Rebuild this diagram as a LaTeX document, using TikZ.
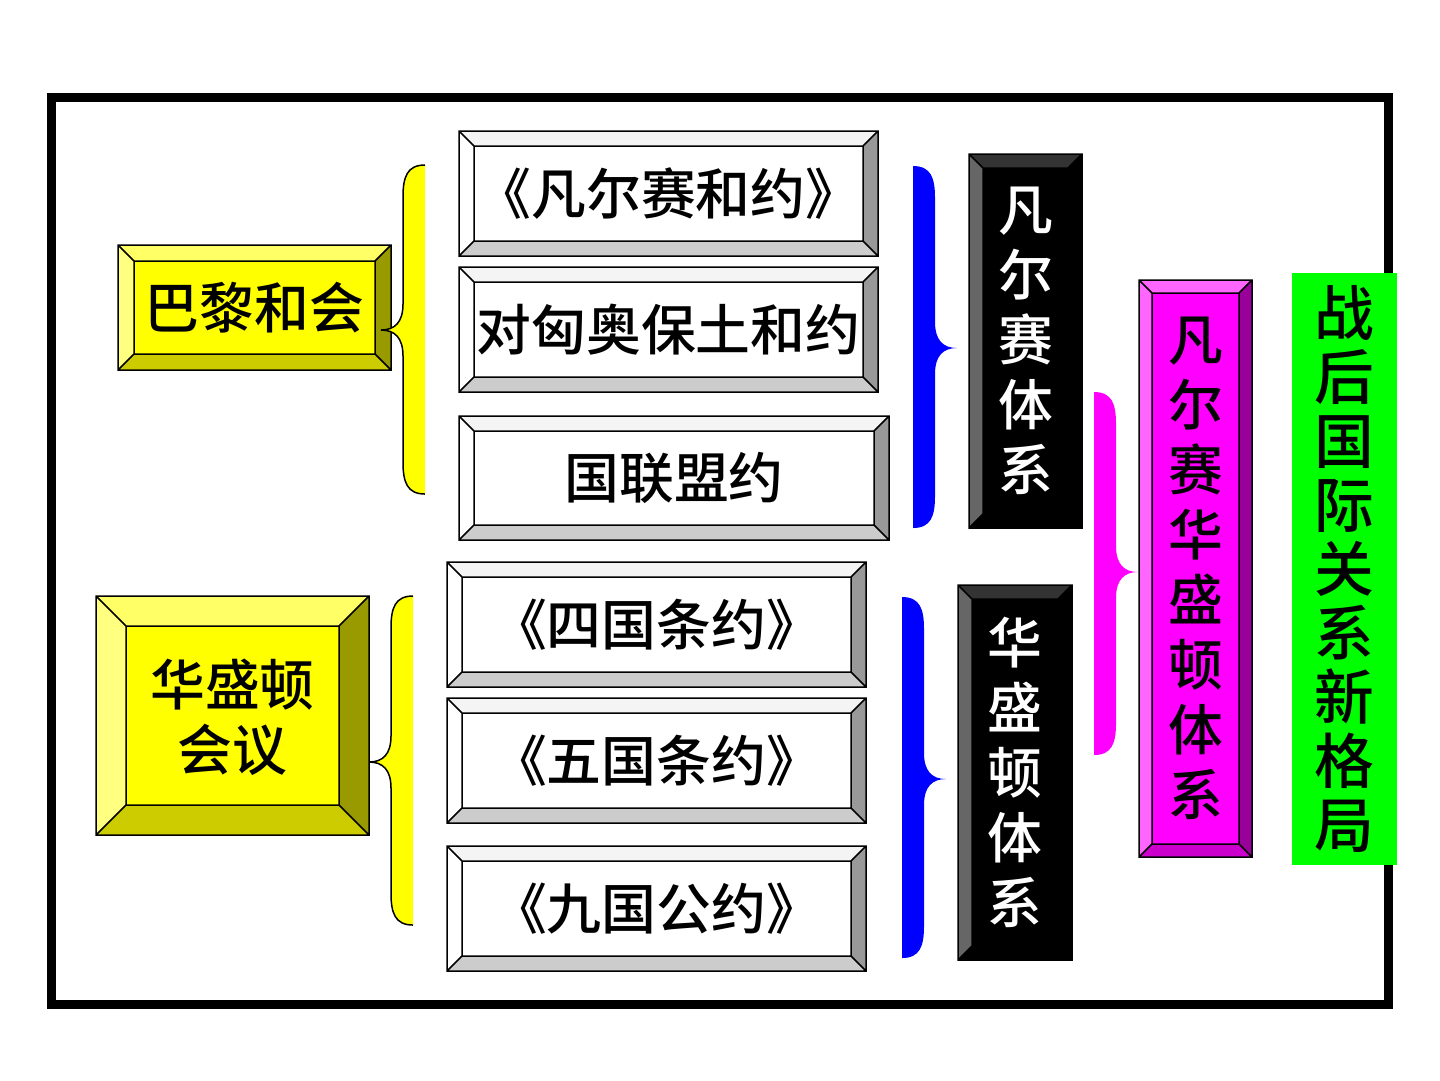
\documentclass[tikz,border=0pt]{standalone}
\usepackage{fontspec}
\newfontfamily\cjk{Noto Sans CJK SC}[BoldFont={* Medium}]
\definecolor{silverT}{HTML}{F4F4F4}
\definecolor{silverL}{HTML}{FFFFFF}
\definecolor{silverM}{HTML}{FFFFFF}
\definecolor{silverR}{HTML}{999999}
\definecolor{silverB}{HTML}{CCCCCC}
\definecolor{goldT}{HTML}{FFFF66}
\definecolor{goldL}{HTML}{FFFF80}
\definecolor{goldM}{HTML}{FFFF00}
\definecolor{goldR}{HTML}{999900}
\definecolor{goldB}{HTML}{CCCC00}
\definecolor{inkT}{HTML}{333333}
\definecolor{inkL}{HTML}{666666}
\definecolor{inkM}{HTML}{000000}
\definecolor{inkR}{HTML}{000000}
\definecolor{inkB}{HTML}{000000}
\definecolor{plumT}{HTML}{FF66FF}
\definecolor{plumL}{HTML}{FF66FF}
\definecolor{plumM}{HTML}{FF00FF}
\definecolor{plumR}{HTML}{990099}
\definecolor{plumB}{HTML}{CC00CC}
\definecolor{braceBlue}{HTML}{0000FF}
\definecolor{braceYellow}{HTML}{FFFF00}
\definecolor{bracePink}{HTML}{FF00FF}
\definecolor{limeFill}{HTML}{00FF00}
\tikzset{
    edge/.style={black, line width=0.15mm},
    lbl/.style={inner sep=0pt, align=center, font=\cjk\bfseries\fontsize{15.6}{18.5}\selectfont},
    biglbl/.style={inner sep=0pt, align=center, font=\cjk\bfseries\fontsize{17}{18.2}\selectfont}
}
\newcommand*{\bevelBox}[6]{% xleft, ytop, xright, ybottom, bevel, colour set
    \fill[#6M] (#1,#2) rectangle (#3,#4);
    \fill[#6T] (#1,#2) -- (#3,#2) -- (#3-#5,#2+#5) -- (#1+#5,#2+#5) -- cycle;
    \fill[#6L] (#1,#2) -- (#1+#5,#2+#5) -- (#1+#5,#4-#5) -- (#1,#4) -- cycle;
    \fill[#6R] (#3,#2) -- (#3,#4) -- (#3-#5,#4-#5) -- (#3-#5,#2+#5) -- cycle;
    \fill[#6B] (#1,#4) -- (#3,#4) -- (#3-#5,#4-#5) -- (#1+#5,#4-#5) -- cycle;
    \draw[edge] (#1,#2) rectangle (#3,#4) (#1+#5,#2+#5) rectangle (#3-#5,#4-#5)
        (#1,#2) -- (#1+#5,#2+#5) (#3,#2) -- (#3-#5,#2+#5)
        (#1,#4) -- (#1+#5,#4-#5) (#3,#4) -- (#3-#5,#4-#5);
}
\newcommand*{\rBrace}[5]{% xleft, ytop, ytip, ybottom, colour -- points right
    \fill[#5] (#1,#2) .. controls (#1+18,#2) and (#1+22,#2+12) .. (#1+22,#2+32)
        -- (#1+22,#3-26) .. controls (#1+22,#3-8) and (#1+30,#3) .. (#1+44,#3)
        .. controls (#1+30,#3) and (#1+22,#3+8) .. (#1+22,#3+26)
        -- (#1+22,#4-32) .. controls (#1+22,#4-12) and (#1+18,#4) .. (#1,#4) -- cycle;
}
\newcommand*{\lBrace}[5]{% xright, ytop, ytip, ybottom, colour -- points left, outlined
    \fill[#5] (#1,#2) .. controls (#1-18,#2) and (#1-22,#2+12) .. (#1-22,#2+32)
        -- (#1-22,#3-26) .. controls (#1-22,#3-8) and (#1-30,#3) .. (#1-44,#3)
        .. controls (#1-30,#3) and (#1-22,#3+8) .. (#1-22,#3+26)
        -- (#1-22,#4-32) .. controls (#1-22,#4-12) and (#1-18,#4) .. (#1,#4) -- cycle;
    \draw[edge] (#1,#2) .. controls (#1-18,#2) and (#1-22,#2+12) .. (#1-22,#2+32)
        -- (#1-22,#3-26) .. controls (#1-22,#3-8) and (#1-30,#3) .. (#1-44,#3)
        .. controls (#1-30,#3) and (#1-22,#3+8) .. (#1-22,#3+26)
        -- (#1-22,#4-32) .. controls (#1-22,#4-12) and (#1-18,#4) .. (#1,#4);
}

\begin{document}
\begin{tikzpicture}[x=0.1mm, y=-0.1mm]
\useasboundingbox (0,0) rectangle (1440,1080);
% outer frame
\draw[line width=0.9mm] (51.5,97.5) rectangle (1388.5,1004);

% conferences
\bevelBox{118}{245}{391}{370}{16}{gold}
\node[lbl] (paris) at (254.5,308) {巴黎和会};
\bevelBox{96}{596}{369}{835}{30}{gold}
\node[lbl] (washington) at (232.5,717) {华盛顿\\会议};
\lBrace{425}{165}{330}{494}{braceYellow}
\lBrace{413}{596}{762}{925}{braceYellow}

% treaties
\bevelBox{459}{131}{878}{256}{15}{silver}
\node[lbl] (versailles) at (668.5,194) {《凡尔赛和约》};
\bevelBox{459}{267}{878}{392}{15}{silver}
\node[lbl] (minor) at (668.5,330) {对匈奥保土和约};
\bevelBox{459}{416}{889}{540}{15}{silver}
\node[lbl] (league) at (674,478) {国联盟约};
\bevelBox{447}{562}{866}{687}{15}{silver}
\node[lbl] (fourpower) at (656.5,625) {《四国条约》};
\bevelBox{447}{698}{866}{823}{15}{silver}
\node[lbl] (fivepower) at (656.5,761) {《五国条约》};
\bevelBox{447}{846}{866}{971}{15}{silver}
\node[lbl] (ninepower) at (656.5,909) {《九国公约》};

% systems
\rBrace{913}{166}{348}{528}{braceBlue}
\rBrace{902}{597}{779}{958}{braceBlue}
\bevelBox{969}{154}{1082}{528}{14}{ink}
\node[lbl, white] (vsys) at (1025.5,341) {凡\\尔\\赛\\体\\系};
\bevelBox{958}{585}{1072}{960}{14}{ink}
\node[lbl, white] (wsys) at (1015,772) {华\\盛\\顿\\体\\系};
\rBrace{1094}{392}{572}{755}{bracePink}
\bevelBox{1139}{280}{1252}{857}{13}{plum}
\node[lbl] (vwsys) at (1195.5,568) {凡\\尔\\赛\\华\\盛\\顿\\体\\系};

% new order
\fill[limeFill] (1292,273) rectangle (1397,865);
\node[biglbl] (neworder) at (1344.5,569) {战\\后\\国\\际\\关\\系\\新\\格\\局};
\end{tikzpicture}
\end{document}
